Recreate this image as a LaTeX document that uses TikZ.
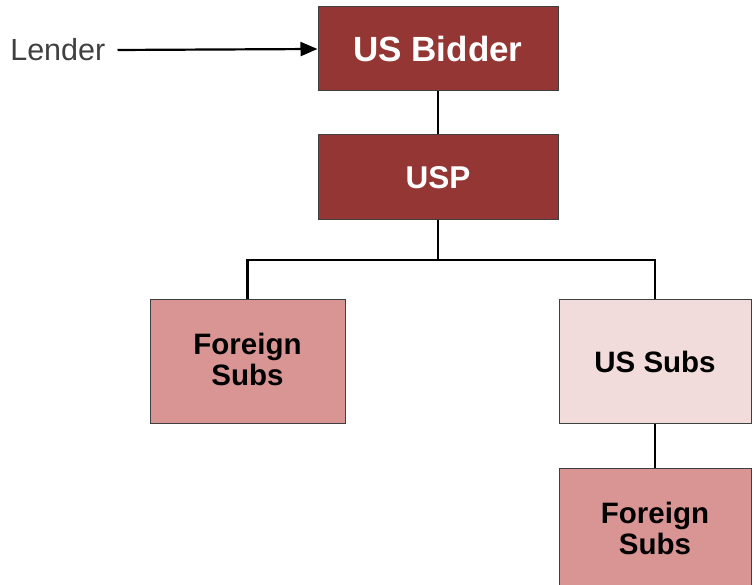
\documentclass[tikz,border=0pt]{standalone}
\usepackage{fontspec}
\setmainfont{Liberation Sans}
\usetikzlibrary{arrows.meta}
\definecolor{darkred}{HTML}{943634}
\definecolor{midpink}{HTML}{D99594}
\definecolor{lightpink}{HTML}{F2DCDB}
\definecolor{bordergray}{HTML}{3F3F3F}
\definecolor{textgray}{HTML}{404040}
\tikzset{
  box/.style={draw=bordergray, line width=1pt, rectangle, inner sep=0pt, align=center, font=\bfseries\fontsize{29.5}{31}\selectfont},
  topbox/.style={box, fill=darkred, text=white, minimum width=240pt, minimum height=84pt},
  subbox/.style={box, fill=midpink, text=black, minimum height=124pt},
  usbox/.style={box, fill=lightpink, text=black, minimum height=124pt},
  conn/.style={draw=black, line width=2.2pt},
}
\begin{document}
\begin{tikzpicture}[x=1pt,y=1pt]
\useasboundingbox (0,0) rectangle (754,585);
\clip (0,0) rectangle (754,585);
\node[topbox, font=\bfseries\fontsize{35}{38}\selectfont] (bidder) at (438,536) {US Bidder};
\node[topbox, minimum height=85pt, font=\bfseries\fontsize{31.5}{35}\selectfont] (usp) at (438,407.5) {USP};
\node[subbox, minimum width=195pt] (fsl) at (247.5,223) {Foreign\\Subs\rule[-6pt]{0pt}{0pt}};
\node[usbox, minimum width=192pt] (ussubs) at (655,223) {US Subs};
\node[subbox, minimum width=192pt] (fsb) at (655,54) {Foreign\\Subs\rule[-6pt]{0pt}{0pt}};
\node[text=textgray, font=\fontsize{30.5}{33}\selectfont, anchor=east, inner sep=0pt] (lender) at (105.5,535) {Lender};
\coordinate (j) at (438,325);
\draw[line width=2.2pt, -{Triangle[length=17pt,width=14pt]}] ([xshift=12pt]lender.east) -- (bidder.west);
\draw[conn] (bidder.south) -- (usp.north);
\draw[conn] (usp.south) -- (j);
\draw[conn] (j) -| (fsl.north);
\draw[conn] (j) -| (ussubs.north);
\draw[conn] (ussubs.south) -- (fsb.north);
\end{tikzpicture}
\end{document}
